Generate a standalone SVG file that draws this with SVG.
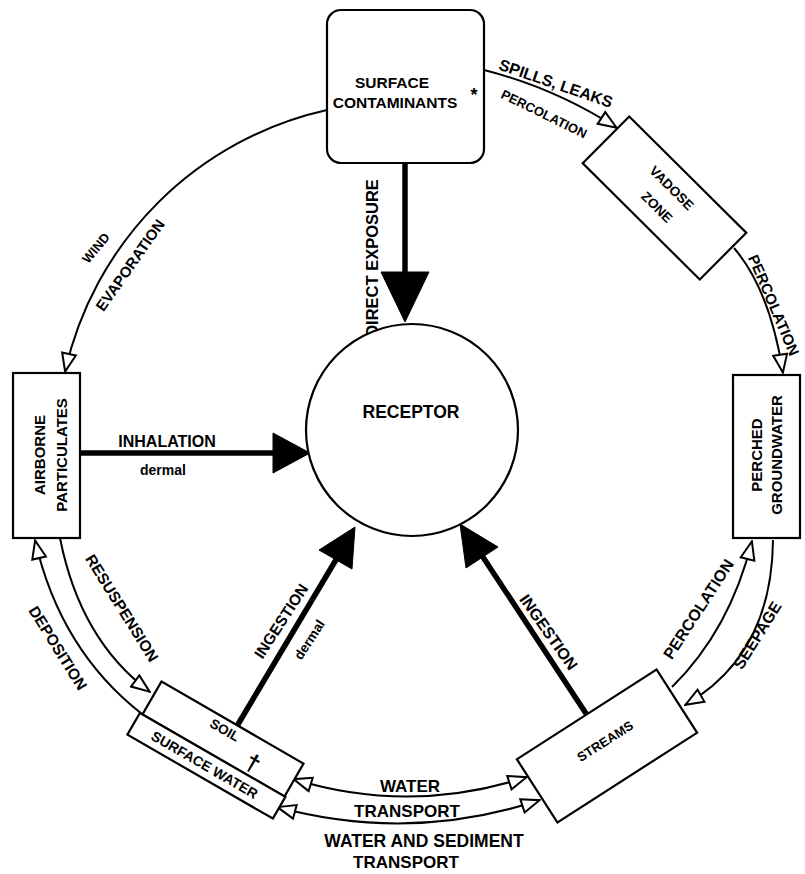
<svg xmlns="http://www.w3.org/2000/svg" width="805" height="874" viewBox="0 0 805 874">
<style>
.t{font-family:"Liberation Sans",Arial,Helvetica,sans-serif;font-weight:bold;fill:#000;text-anchor:middle}
.box{fill:#fff;stroke:#000;stroke-width:2.2}
.ln{fill:none;stroke:#000;stroke-width:2}
.hv{fill:none;stroke:#000;stroke-width:5.5}
.hd{fill:#000;stroke:#000;stroke-width:1}
.oa{marker-end:url(#oa)}
.dbl{marker-start:url(#oa);marker-end:url(#oa)}
</style>
<defs>
<marker id="oa" viewBox="0 0 21 17" refX="20" refY="8.5" markerWidth="21" markerHeight="17" markerUnits="userSpaceOnUse" orient="auto-start-reverse">
<path d="M1.5,1.5 L19.5,8.5 L1.5,15.5 z" fill="#fff" stroke="#000" stroke-width="2"/>
</marker>
</defs>
<rect width="805" height="874" fill="#fff"/>

<g id="connectors">
<path class="ln oa" d="M484,70 Q555,88 617,128"/>
<path class="ln oa" d="M734,248 Q770,290 783,373"/>
<path class="ln oa" d="M773,540 Q772,655 685,705"/>
<path class="ln oa" d="M672,687 Q730,630 752,541"/>
<path class="ln dbl" d="M293,779 Q410,815 527,777"/>
<path class="ln dbl" d="M277,807 Q410,843 540,800"/>
<path class="ln oa" d="M142,714 Q60,650 35,540"/>
<path class="ln oa" d="M60,538 Q80,640 150,692"/>
<path class="ln oa" d="M327,110 A345,345 0 0 0 65,372"/>
<line class="hv" x1="405" y1="163" x2="405" y2="280"/>
<polygon class="hd" points="381,272 405,322 429,272"/>
<line class="hv" x1="80" y1="453" x2="280" y2="453"/>
<polygon class="hd" points="273,433 310,453 273,473"/>
<line class="hv" x1="237" y1="726" x2="340" y2="553"/>
<polygon class="hd" points="355,527 352,569 319,550"/>
<line class="hv" x1="587" y1="715" x2="475" y2="545"/>
<polygon class="hd" points="460,524 498,547 466,568"/>

<text class="t" font-size="16.5" transform="translate(372,258) rotate(-90)" y="6">DIRECT EXPOSURE</text>
<text class="t" font-size="16" transform="translate(556,83) rotate(19)" y="6">SPILLS, LEAKS</text>
<text class="t" font-size="13" transform="translate(544,114) rotate(26)" y="4.5">PERCOLATION</text>
<text class="t" font-size="15" transform="translate(774,305) rotate(67)" y="5.5">PERCOLATION</text>
<text class="t" font-size="16" transform="translate(698,609) rotate(-57)" y="6">PERCOLATION</text>
<text class="t" font-size="16" transform="translate(757,635) rotate(-58)" y="6">SEEPAGE</text>
<text class="t" font-size="16" transform="translate(549,632) rotate(55)" y="6">INGESTION</text>
<text class="t" font-size="15.5" transform="translate(281,621) rotate(-57)" y="5.5">INGESTION</text>
<text class="t" font-size="13.5" transform="translate(310,640) rotate(-57)" y="4">dermal</text>
<text class="t" font-size="16" x="167" y="447">INHALATION</text>
<text class="t" font-size="14" x="163" y="475">dermal</text>
<text class="t" font-size="13" transform="translate(96,248) rotate(-50)" y="4.5">WIND</text>
<text class="t" font-size="15" transform="translate(130,265) rotate(-55)" y="5.5">EVAPORATION</text>
<text class="t" font-size="15.5" transform="translate(122,608) rotate(58)" y="5.5">RESUSPENSION</text>
<text class="t" font-size="15.5" transform="translate(58,648) rotate(58)" y="5.5">DEPOSITION</text>
<text class="t" font-size="17" x="410" y="792">WATER</text>
<text class="t" font-size="17" x="407" y="817">TRANSPORT</text>
<text class="t" font-size="17.5" x="424" y="847">WATER AND SEDIMENT</text>
<text class="t" font-size="17" x="406" y="868">TRANSPORT</text>
</g>

<g id="surface-contaminants">
<rect class="box" x="327" y="10" width="157" height="153" rx="14"/>
<text class="t" font-size="15.5" x="392" y="88">SURFACE</text>
<text class="t" font-size="15.5" x="395" y="108">CONTAMINANTS</text>
<text class="t" font-size="18" x="474" y="101">*</text>
</g>

<g id="receptor">
<circle class="box" cx="412" cy="430" r="106"/>
<text class="t" font-size="17.5" x="411" y="418">RECEPTOR</text>
</g>

<g id="vadose-zone" transform="translate(664.5,198) rotate(44.8)">
<rect class="box" x="-82.5" y="-33" width="165" height="66"/>
<text class="t" font-size="13.5" x="-2" y="-7.5">VADOSE</text>
<text class="t" font-size="13.5" x="1" y="16.5">ZONE</text>
</g>

<g id="perched-groundwater">
<rect class="box" x="733" y="375" width="67" height="163"/>
<text class="t" font-size="15" transform="translate(762,455) rotate(-90)">PERCHED</text>
<text class="t" font-size="15" transform="translate(782,455) rotate(-90)">GROUNDWATER</text>
</g>

<g id="airborne-particulates">
<rect class="box" x="13" y="373" width="67" height="165"/>
<text class="t" font-size="15" transform="translate(45,455) rotate(-90)">AIRBORNE</text>
<text class="t" font-size="15" transform="translate(67,455) rotate(-90)">PARTICULATES</text>
</g>

<g id="streams" transform="translate(607,746) rotate(-32.7)">
<rect class="box" x="-83" y="-37.5" width="166" height="75"/>
<text class="t" font-size="13" x="1" y="-0.5">STREAMS</text>
</g>

<g id="soil" transform="translate(223,739) rotate(30)">
<rect class="box" x="-82" y="-19" width="164" height="38"/>
<text class="t" font-size="13.5" x="-3" y="-4">SOIL</text>
<text class="t" font-size="24" x="38" y="14">†</text>
</g>

<g id="surface-water" transform="translate(223,739) rotate(30)">
<rect class="box" x="-85" y="19" width="168" height="25"/>
<text class="t" font-size="14" x="-3" y="36.5">SURFACE WATER</text>
</g>
</svg>
